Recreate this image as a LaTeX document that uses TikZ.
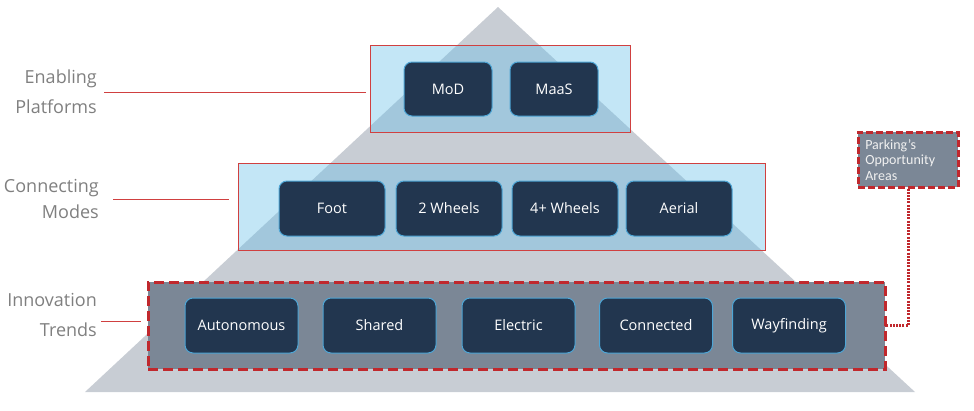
\documentclass[tikz,border=0pt]{standalone}
\usepackage{fontspec}
\setmainfont{Open Sans}
\newfontfamily\calloutfont{Carlito}
\usepackage{tikz}
\usetikzlibrary{positioning}

\definecolor{pyrgrey}{RGB}{200,205,212}
\definecolor{skyblue}{RGB}{105,192,232}
\definecolor{boxred}{RGB}{208,64,64}
\definecolor{dashred}{RGB}{192,40,45}
\definecolor{slate}{RGB}{123,135,150}
\definecolor{navy}{RGB}{34,54,79}
\definecolor{rimblue}{RGB}{78,166,214}
\definecolor{lblgrey}{RGB}{127,127,127}

\tikzset{
  layer/.style={draw=boxred, line width=1pt, fill=skyblue, fill opacity=0.4,
    minimum height=87pt, outer sep=0pt, inner sep=0pt},
  trendlayer/.style={draw=dashred, line width=3pt, dash pattern=on 10pt off 5pt,
    fill=slate, minimum height=87pt, outer sep=0pt, inner sep=0pt},
  item/.style={draw=rimblue, line width=1pt, fill=navy, rounded corners=8pt,
    text=white, font=\fontsize{14.5}{17}\selectfont, outer sep=0pt, inner sep=0pt},
  lbl/.style={anchor=east, align=right, text=lblgrey, inner sep=0pt},
  tick/.style={draw=boxred, line width=1pt},
  callout/.style={draw=dashred, line width=2.5pt, dash pattern=on 7pt off 3pt,
    fill=slate, text=white!94!black, align=left, anchor=north west,
    minimum width=93pt, minimum height=55pt, text width=86pt, inner xsep=7pt, inner ysep=3pt,
    font=\calloutfont\fontsize{14}{15.5}\selectfont},
  dotline/.style={draw=dashred, line width=2.5pt, dash pattern=on 2pt off 1.2pt}
}

\begin{document}
\begin{tikzpicture}[x=1pt,y=-1pt]
\useasboundingbox (0,0) rectangle (974,410);

% pyramid
\fill[pyrgrey] (498,7) -- (915,392) -- (85,392) -- cycle;

% layers
\node[layer, minimum width=260pt] (plat) at (500,88.5) {};
\node[layer, minimum width=527pt] (mode) at (501.5,206.5) {};
\node[trendlayer, minimum width=737pt] (trend) at (516.5,325.5) {};

% platforms
\foreach \x/\t [count=\i] in {448/MoD, 554/MaaS}
  \node[item, minimum width=88pt, minimum height=54pt] (p\i) at (\x,89) {\t};

% modes
\foreach \x/\t [count=\i] in {332/Foot, 449/2 Wheels, 565/4+ Wheels, 679/Aerial}
  \node[item, minimum width=106pt, minimum height=55pt] (m\i) at (\x,208.5) {\t};

% trends
\foreach \x/\t [count=\i] in {241.5/Autonomous, 379.5/Shared, 518.5/Electric,
    656/Connected, 789/Wayfinding}
  \node[item, minimum width=113pt, minimum height=55pt] (t\i) at (\x,325.5) {\t};

% side labels
\node[lbl, font=\fontsize{18}{30}\selectfont] (lplat) at (97,92) {Enabling\\Platforms};
\node[lbl, font=\fontsize{18}{26}\selectfont] (lmode) at (99,199) {Connecting\\Modes};
\node[lbl, font=\fontsize{18}{30}\selectfont] (ltrend) at (97,315) {Innovation\\Trends};

\draw[tick, shorten <=7pt, shorten >=4pt] (lplat.east) -- (lplat.east -| plat.west);
\draw[tick, shorten <=14pt, shorten >=9pt] (lmode.east) -- (lmode.east -| mode.west);
\draw[tick, shorten <=4pt, shorten >=7pt] (97,321) coordinate (ltr) -- (ltr -| trend.west);

% parking callout
\node[callout] (park) at (857,131) {Parking’s\\Opportunity\\Areas};
\draw[dotline] (park.south) |- (trend.east);
\end{tikzpicture}
\end{document}
